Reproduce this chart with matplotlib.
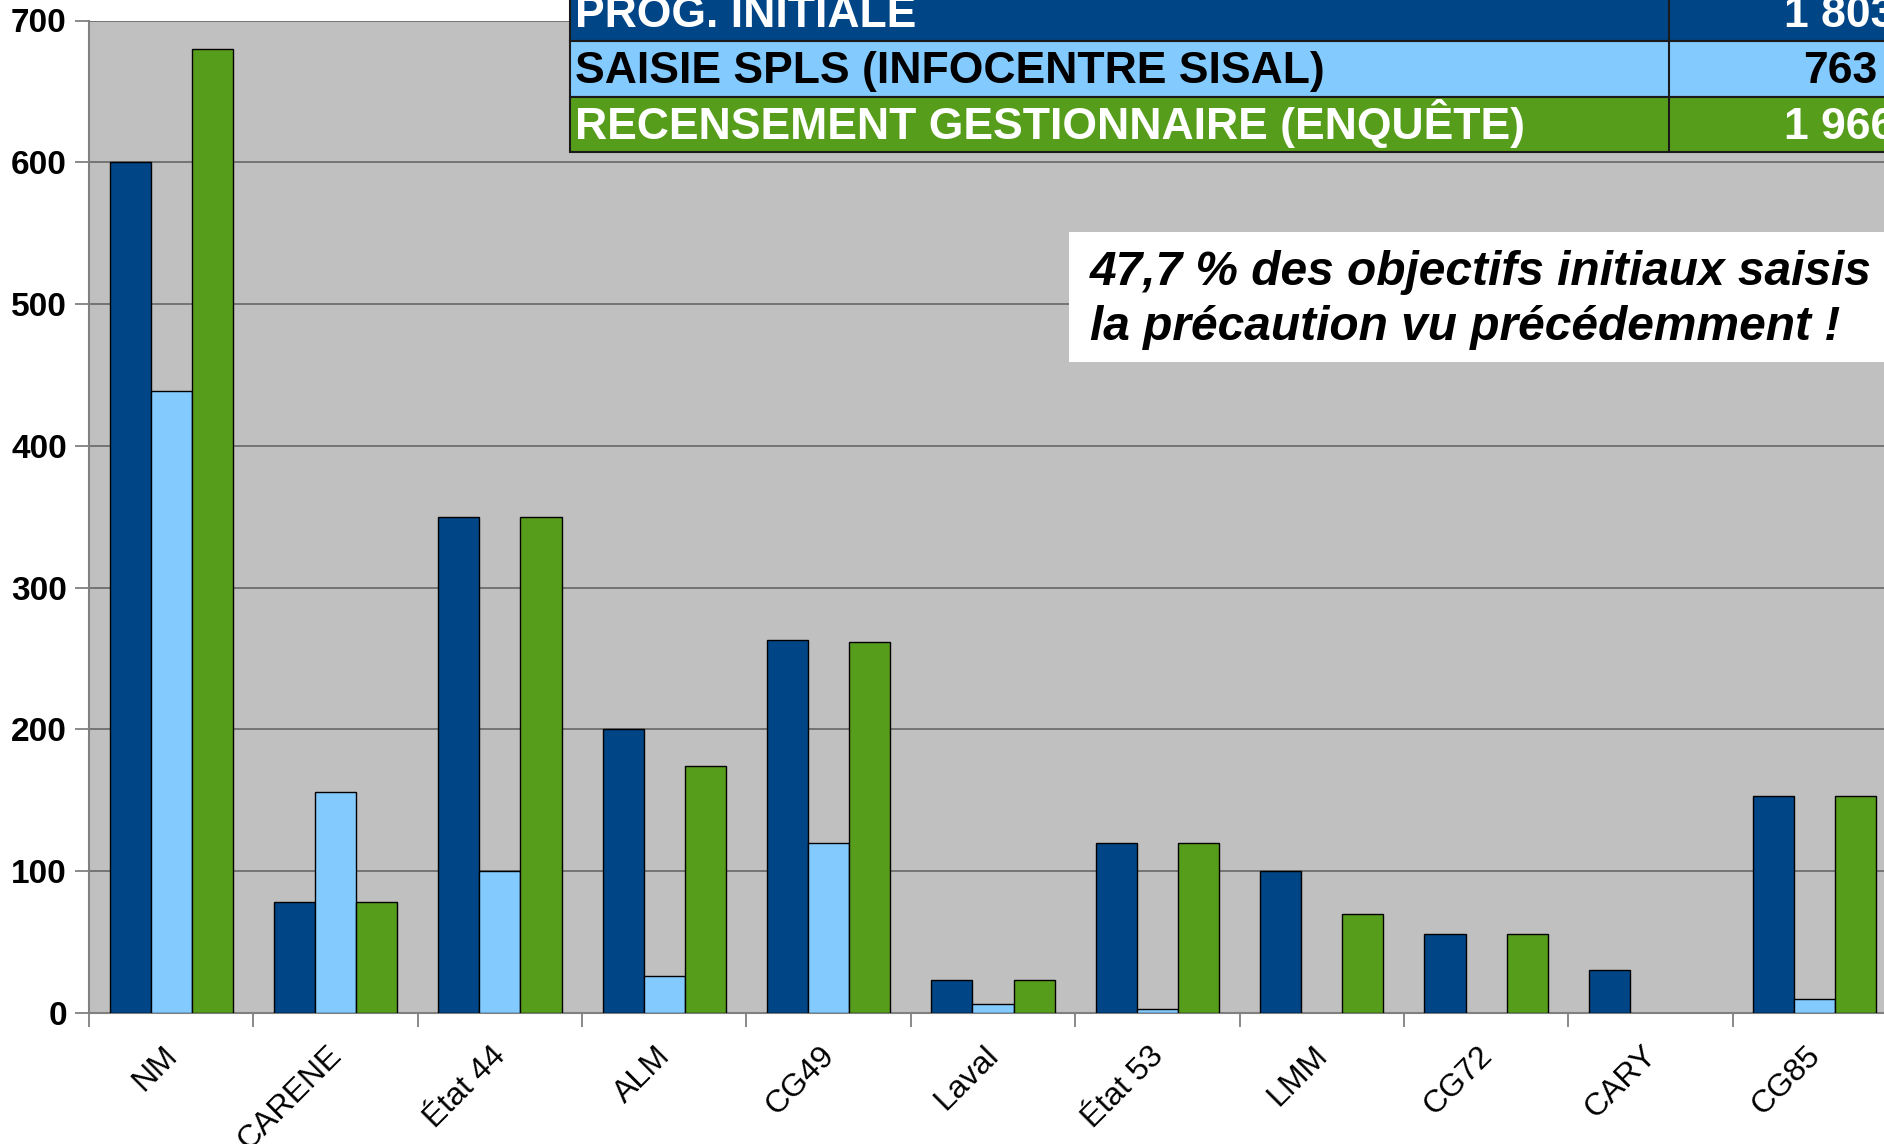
import numpy as np
import matplotlib.pyplot as plt
import matplotlib.transforms as mtransforms
from matplotlib.patches import Rectangle

plt.rcParams['font.family'] = ['Liberation Sans', 'DejaVu Sans']

# donnees
categories = ['NM', 'CARENE', 'État 44', 'ALM', 'CG49', 'Laval', 'État 53',
              'LMM', 'CG72', 'CARY', 'CG85']
prog_initiale = [600, 78, 350, 200, 263, 23, 120, 100, 56, 30, 153]
saisie_spls = [439, 156, 100, 26, 120, 6, 3, 0, 0, 0, 10]
recensement = [680, 78, 350, 174, 262, 23, 120, 70, 56, 0, 153]

table_labels = ['PROG. INITIALE', 'SAISIE SPLS (INFOCENTRE SISAL)',
                'RECENSEMENT GESTIONNAIRE (ENQUÊTE)']
table_totals = ['1 803', '763', '1 966']
yticks = [0, 100, 200, 300, 400, 500, 600, 700]

colors = ['#004586', '#83caff', '#579d1c']
text_colors = ['white', 'black', 'white']

W, H = 1884, 1144


def fx(x):
    return x / W


def fy(y):
    return 1 - y / H


fig = plt.figure(figsize=(W / 100, H / 100), dpi=100)
ax = fig.add_axes([fx(89), fy(1013), (1897 - 89) / W, (1013 - 20.5) / H])
ax.set_facecolor('#c0c0c0')

x = np.arange(len(categories))
series = [prog_initiale, saisie_spls, recensement]
for i, (vals, c) in enumerate(zip(series, colors)):
    bars = ax.bar(x + (i - 1) * 0.25, vals, width=0.25, color=c,
                  edgecolor='black', linewidth=1, zorder=3)
    for b, v in zip(bars, vals):
        if v == 0:
            b.set_visible(False)

ax.set_xlim(-0.5, len(categories) - 0.5)
ax.set_ylim(0, 700)
ax.set_yticks(yticks)
ax.set_yticklabels([str(v) for v in yticks], fontsize=24, fontweight='bold')
ax.yaxis.grid(True, color='#6e6e6e', linewidth=1.3, zorder=1)
ax.set_axisbelow(True)
ax.tick_params(axis='y', length=10, width=1.3, color='#808080', pad=6)

ax.set_xticks(x)
ax.set_xticklabels(categories, rotation=45, ha='right', fontsize=23)
ax.set_xticks(np.arange(len(categories) + 1) - 0.5, minor=True)
ax.tick_params(axis='x', which='major', length=0, pad=20)
ax.tick_params(axis='x', which='minor', length=10, width=1.3, color='#808080')
offset = mtransforms.ScaledTranslation(12 / 100, 0, fig.dpi_scale_trans)
for lab in ax.get_xticklabels():
    lab.set_transform(lab.get_transform() + offset)

for s in ['top', 'right']:
    ax.spines[s].set_visible(False)
for s in ['left', 'bottom']:
    ax.spines[s].set_color('#808080')
    ax.spines[s].set_linewidth(1.5)

# tableau des totaux
row_h = 55.7
top0 = -14.7
for i, (lab, tot) in enumerate(zip(table_labels, table_totals)):
    top = top0 + i * row_h
    fig.add_artist(Rectangle((fx(570), fy(top + row_h)), (2011 - 570) / W, row_h / H,
                             facecolor=colors[i], edgecolor='#1a1a1a', linewidth=1.5,
                             transform=fig.transFigure, zorder=5))
    fig.text(fx(575), fy(top + 42), lab, ha='left', va='baseline', fontsize=32,
             fontweight='bold', color=text_colors[i], zorder=6)
    fig.text(fx(1840), fy(top + 42), tot, ha='center', va='baseline', fontsize=32,
             fontweight='bold', color=text_colors[i], zorder=6)
fig.add_artist(plt.Line2D([fx(1669), fx(1669)], [fy(top0), fy(top0 + 3 * row_h)],
                          color='#1a1a1a', linewidth=1.5, transform=fig.transFigure, zorder=6))

# encadre commentaire
fig.add_artist(Rectangle((fx(1069), fy(362)), (1950 - 1069) / W, 130 / H,
                         facecolor='white', edgecolor='none',
                         transform=fig.transFigure, zorder=5))
fig.text(fx(1090), fy(285), '47,7 % des objectifs initiaux saisis', ha='left',
         va='baseline', fontsize=34.5, fontweight='bold', fontstyle='italic', zorder=6)
fig.text(fx(1090), fy(340), 'la précaution vu précédemment !', ha='left',
         va='baseline', fontsize=34.5, fontweight='bold', fontstyle='italic', zorder=6)

fig.savefig('out.png', dpi=100)
